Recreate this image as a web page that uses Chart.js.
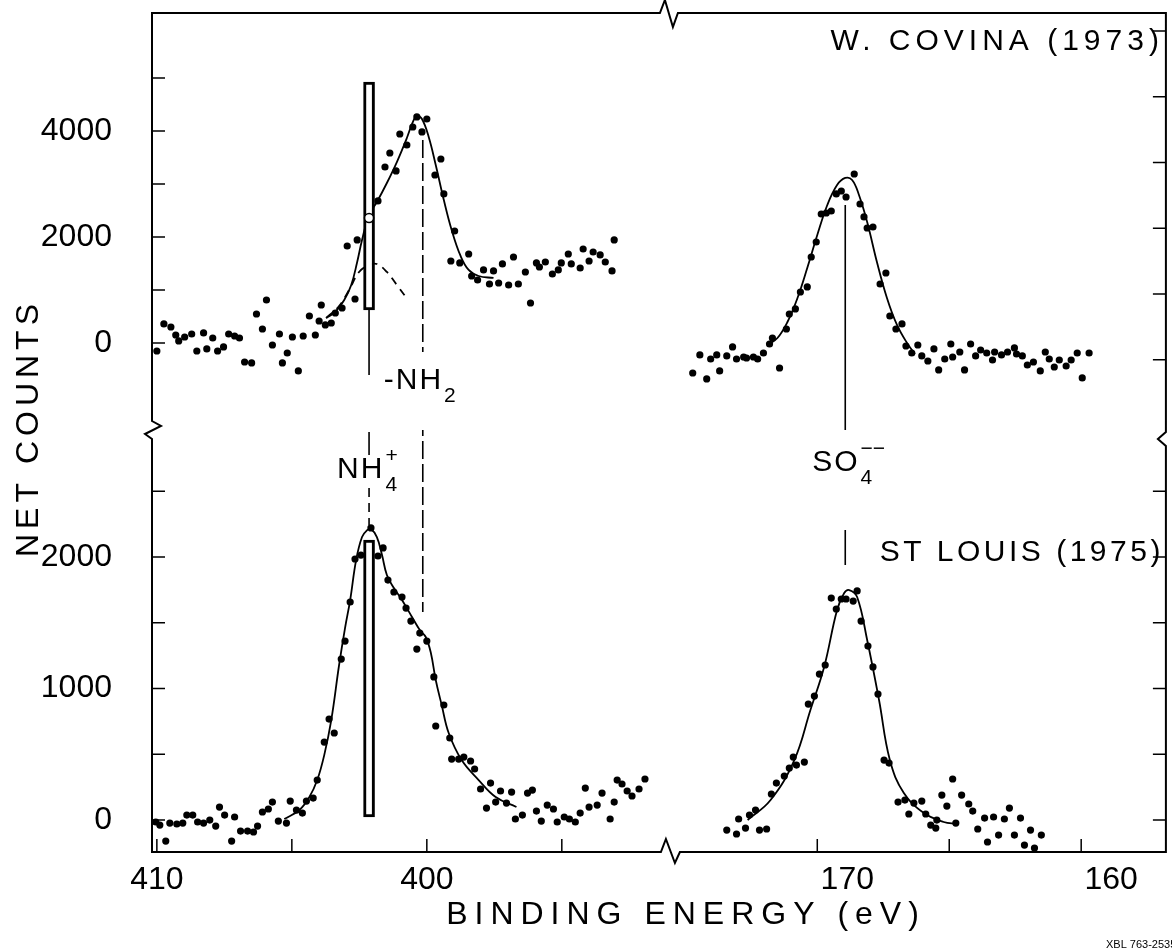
<!DOCTYPE html>
<html>
<head>
<meta charset="utf-8">
<script src="https://cdn.jsdelivr.net/npm/chart.js@4.4.0/dist/chart.umd.min.js"></script>
<style>
  html, body { margin: 0; padding: 0; background: #fff; }
</style>
</head>
<body>
<canvas id="xps" width="1172" height="951"></canvas>
<script>
// N 1s region (eV) and S 2p region (eV), net counts
const covinaN_eV = [410.00,409.74,409.48,409.30,409.19,408.97,408.71,408.52,408.27,408.15,407.93,407.75,407.53,407.34,407.12,406.94,406.75,406.49,406.31,406.09,405.94,405.72,405.46,405.35,405.17,404.98,404.76,404.58,404.35,404.13,403.99,403.91,403.76,403.54,403.39,403.14,402.95,402.66,402.58,401.81,401.55,401.37,401.14,401.00,400.74,400.52,400.37,400.18,400.00,399.70,399.48,399.37,399.11,398.97,398.78,398.45,398.34,398.12,397.90,397.68,397.53,397.34,397.20,396.97,396.79,396.61,396.35,396.16,395.94,395.83,395.61,395.35,395.13,395.02,394.76,394.65,394.32,394.21,393.99,393.84,393.58,393.39,393.14,393.06];
const covinaN_counts = [-151,359,302,151,38,113,170,-151,189,-113,94,-151,-75,170,132,94,-359,-377,547,264,811,-38,170,-377,-189,113,-528,132,509,151,415,717,340,377,566,660,1830,830,1944,2680,3321,3585,3246,3944,3736,4076,4265,3982,4227,3170,3472,2812,1547,2113,1510,1679,1264,1189,1378,1113,1359,1132,1491,1094,1623,1113,1340,755,1510,1434,1528,1302,1378,1510,1679,1491,1415,1774,1547,1717,1661,1528,1359,1944];
const covinaNFit_eV = [403.73,403.39,403.06,402.80,402.58,402.40,402.14,401.85,401.48,401.11,400.74,400.52,400.37,400.18,399.93,399.67,399.37,399.08,398.75,398.45,398.08,397.53];
const covinaNFit_counts = [472,585,811,1094,1528,1944,2415,2661,3019,3415,3868,4170,4283,4227,3887,3359,2698,2132,1642,1378,1264,1227];
const covinaNH4_eV = [403.73,403.25,402.88,402.51,402.14,401.85,401.48,401.11,400.78];
const covinaNH4_counts = [472,698,1000,1340,1472,1491,1340,1094,868];

const covinaS_eV = [174.72,174.45,174.19,174.04,173.81,173.70,173.43,173.21,173.06,172.79,172.68,172.42,172.26,172.04,171.81,171.70,171.43,171.17,171.06,170.83,170.64,170.38,170.23,170.04,169.85,169.66,169.47,169.28,169.09,168.91,168.60,168.38,168.23,168.11,167.89,167.62,167.40,167.25,167.02,166.79,166.64,166.42,166.19,166.04,165.81,165.58,165.40,165.17,164.94,164.87,164.60,164.42,164.19,164.00,163.81,163.58,163.36,163.28,163.02,162.79,162.53,162.45,162.23,162.04,161.81,161.55,161.36,161.21,161.02,160.83,160.57,160.38,160.15,159.96,159.70];
const covinaS_counts = [-566,-226,-679,-302,-226,-528,-245,-75,-302,-264,-283,-264,-302,-189,-19,94,-472,264,547,642,962,1057,1623,1906,2434,2453,2491,2812,2868,2755,3189,2623,2378,2170,2189,1113,1321,509,264,359,-57,-189,-38,-245,-340,-113,-509,-302,-19,-264,-170,-509,-19,-245,-132,-189,-321,-170,-226,-170,-94,-208,-245,-415,-359,-528,-170,-302,-453,-321,-434,-321,-189,-660,-189];
const covinaSFit_eV = [171.89,171.51,171.13,170.75,170.38,170.00,169.62,169.25,168.94,168.68,168.42,168.11,167.74,167.36,166.98,166.60,166.30];
const covinaSFit_counts = [-38,94,396,849,1415,2038,2604,2981,3114,3076,2793,2283,1528,849,340,0,-208];

const louisN_eV = [410.04,409.89,409.67,409.52,409.26,409.04,408.89,408.67,408.49,408.27,408.04,407.82,407.68,407.49,407.23,407.12,406.90,406.64,406.42,406.27,406.09,405.87,405.72,405.50,405.20,405.06,404.83,404.61,404.46,404.21,404.06,403.80,403.62,403.43,403.17,403.03,402.84,402.66,402.44,402.07,401.81,401.62,401.44,401.22,400.92,400.77,400.59,400.37,400.26,400.00,399.74,399.67,399.37,399.15,399.08,398.82,398.63,398.38,398.23,398.01,397.79,397.64,397.45,397.27,397.05,396.86,396.72,396.46,396.27,396.09,395.94,395.76,395.54,395.31,395.17,394.91,394.72,394.50,394.32,394.13,393.99,393.69,393.51,393.21,393.06,392.95,392.77,392.58,392.40,392.14,391.92];
const louisN_counts = [-15,-38,-160,-23,-30,-23,38,38,-15,-23,0,-46,99,38,-160,23,-84,-84,-91,-46,61,84,137,-8,-23,144,76,53,144,167,304,593,768,662,1224,1361,1658,1985,2015,2221,2008,2069,1825,1734,1696,1612,1513,1300,1422,1361,1088,715,875,624,464,464,479,449,388,236,91,281,137,221,129,213,8,38,205,228,68,-8,114,84,-15,23,8,-15,53,243,99,114,205,8,137,304,274,221,183,236,312];
const louisNFit_eV = [405.28,404.72,404.35,404.06,403.80,403.54,403.25,403.03,402.84,402.62,402.40,402.21,402.07,401.85,401.66,401.48,401.22,400.92,400.55,400.26,400.04,399.85,399.67,399.45,399.19,398.71,398.08,397.45,396.68];
const louisNFit_counts = [8,76,175,304,494,760,1179,1460,1673,1977,2152,2205,2213,2152,2015,1863,1764,1673,1544,1445,1392,1270,1065,875,662,456,304,175,99];

const louisS_eV = [173.43,173.06,172.98,172.72,172.57,172.34,172.19,171.92,171.74,171.55,171.25,171.06,170.91,170.79,170.49,170.34,170.11,169.92,169.70,169.47,169.28,169.09,168.91,168.64,168.49,168.34,168.08,167.89,167.70,167.47,167.28,166.94,166.68,166.53,166.34,166.04,165.89,165.70,165.51,165.47,165.28,165.09,164.87,164.75,164.53,164.26,164.11,163.92,163.66,163.55,163.32,163.13,162.91,162.72,162.53,162.30,162.15,161.92,161.77,161.51];
const louisS_counts = [-76,-106,8,-61,38,76,-76,-68,198,281,335,395,479,418,441,882,943,1110,1179,1688,1605,1681,1681,1665,1742,1513,1323,1164,958,456,433,137,152,46,129,144,46,-38,-61,0,190,106,312,-23,190,122,68,-68,15,-167,23,-114,8,91,-114,15,-190,-76,-213,-114];
const louisSFit_eV = [172.64,171.77,170.87,170.26,169.74,169.25,168.98,168.79,168.49,168.11,167.66,167.25,166.72,165.96,165.21,164.72];
const louisSFit_counts = [0,152,456,837,1164,1597,1726,1749,1696,1369,913,456,205,53,-15,-30];

// marker positions
const nh4_eV = 402.14;
const nh2_eV = 400.15;
const so4_eV = 168.94;
const covinaBar = [623, 4925];
const louisBar = [23, 2129];
const covinaRing = 2359;

// axes
const nTicks = [410, 405, 400, 395];
const nLabels = [410, 400];
const sTicks = [170, 165, 160];
const sLabels = [170, 160];
const topTicks = [0, 1000, 2000, 3000, 4000, 5000];
const topLabels = [0, 2000, 4000];
const botTicks = [0, 500, 1000, 1500, 2000, 2500];
const botLabels = [0, 1000, 2000];

const FONT = "'Liberation Sans', Arial, sans-serif";
Chart.defaults.font.family = FONT;
Chart.defaults.color = '#000';

function pts(xs, ys) {
  return xs.map((x, i) => ({x: x, y: ys[i]}));
}
function dots(xs, ys, xid, yid) {
  return { type: 'scatter', data: pts(xs, ys), xAxisID: xid, yAxisID: yid,
    pointRadius: 3.6, pointBackgroundColor: '#000', pointBorderWidth: 0, showLine: false };
}
function curve(xs, ys, xid, yid, dash) {
  return { type: 'scatter', data: pts(xs, ys), xAxisID: xid, yAxisID: yid,
    showLine: true, tension: 0.4, borderColor: '#000', borderWidth: 1.8,
    borderDash: dash || [], pointRadius: 0, fill: false };
}
function rule(x, y0, y1, xid, yid, dash) {
  let d = curve([x, x], [y0, y1], xid, yid, dash);
  d.tension = 0;
  d.borderWidth = 1.6;
  return d;
}
function bar(x, range, yid) {
  return { type: 'bar', data: [{x: x, y: range}], xAxisID: 'xL', yAxisID: yid,
    barThickness: 11, grouped: false, borderWidth: 3, borderColor: '#000',
    backgroundColor: '#fff', borderSkipped: false, order: -1 };
}
function tickSetter(vals) {
  return function (s) { s.ticks = vals.map(v => ({value: v})); };
}
// fixed axis box, no extra room for overhanging labels
function fixBox(w, h) {
  return function (s) {
    if (w) s.width = w;
    if (h) s.height = h;
    s.paddingTop = s.paddingBottom = s.paddingLeft = s.paddingRight = 0;
  };
}

const framePlugin = {
  id: 'frame',
  afterDraw(chart) {
    const {ctx, chartArea: a} = chart;
    const {xL, xR, yT, yB} = chart.scales;
    const bx = xL.right;
    const by = yT.bottom;
    ctx.save();
    ctx.strokeStyle = '#000';
    ctx.lineWidth = 2;
    ctx.lineJoin = 'miter';
    ctx.beginPath();
    ctx.moveTo(a.left, a.top);
    ctx.lineTo(bx - 8, a.top);
    ctx.lineTo(bx - 3, a.top - 13);
    ctx.lineTo(bx + 5, a.top + 14);
    ctx.lineTo(bx + 10, a.top);
    ctx.lineTo(a.right, a.top);
    ctx.lineTo(a.right, by + 2);
    ctx.lineTo(a.right - 8, by + 9);
    ctx.lineTo(a.right, by + 16);
    ctx.lineTo(a.right, a.bottom);
    ctx.lineTo(bx + 12, a.bottom);
    ctx.lineTo(bx + 7, a.bottom + 11);
    ctx.lineTo(bx - 2, a.bottom - 13);
    ctx.lineTo(bx - 7, a.bottom);
    ctx.lineTo(a.left, a.bottom);
    ctx.lineTo(a.left, by + 9);
    ctx.lineTo(a.left - 7, by + 4);
    ctx.lineTo(a.left + 9, by - 4);
    ctx.lineTo(a.left, by - 9);
    ctx.closePath();
    ctx.stroke();

    // inward tick marks
    const tl = 13;
    ctx.lineWidth = 1.5;
    ctx.beginPath();
    topTicks.forEach(v => { const y = yT.getPixelForValue(v); ctx.moveTo(a.left, y); ctx.lineTo(a.left + tl, y); });
    botTicks.forEach(v => { const y = yB.getPixelForValue(v); ctx.moveTo(a.left, y); ctx.lineTo(a.left + tl, y); });
    nTicks.forEach(v => { const x = xL.getPixelForValue(v); ctx.moveTo(x, a.bottom); ctx.lineTo(x, a.bottom - tl); });
    sTicks.forEach(v => { const x = xR.getPixelForValue(v); ctx.moveTo(x, a.bottom); ctx.lineTo(x, a.bottom - tl); });
    // right side keeps the lower panel's 500-count spacing all the way up
    const step = yB.getPixelForValue(0) - yB.getPixelForValue(500);
    for (let y = yB.getPixelForValue(0); y > a.top + 5; y -= step) {
      if (Math.abs(y - by) < 16) continue;
      ctx.moveTo(a.right, y);
      ctx.lineTo(a.right - tl, y);
    }
    ctx.stroke();

    // axis titles
    ctx.fillStyle = '#000';
    ctx.textBaseline = 'middle';
    ctx.textAlign = 'center';
    ctx.font = '32px ' + FONT;
    ctx.letterSpacing = '7px';
    ctx.fillText('BINDING ENERGY (eV)', 686, 915);
    ctx.save();
    ctx.translate(29, 428);
    ctx.rotate(-Math.PI / 2);
    ctx.letterSpacing = '5px';
    ctx.fillText('NET COUNTS', 0, 0);
    ctx.restore();

    // panel names
    ctx.textAlign = 'right';
    ctx.font = '30px ' + FONT;
    ctx.letterSpacing = '5px';
    ctx.fillText('W. COVINA (1973)', a.right - 2, 42);
    ctx.letterSpacing = '3.5px';
    ctx.fillText('ST LOUIS (1975)', a.right - 2, 553);

    // species labels
    function chem(x, y, base, sub, sup) {
      ctx.textAlign = 'left';
      ctx.font = '30px ' + FONT;
      ctx.letterSpacing = '2px';
      ctx.fillText(base, x, y);
      const w = ctx.measureText(base).width;
      ctx.font = '21px ' + FONT;
      ctx.letterSpacing = '0px';
      if (sub) ctx.fillText(sub, x + w + 1, y + 15);
      if (sup) ctx.fillText(sup, x + w + 1, y - 14);
    }
    const xNH4 = xL.getPixelForValue(nh4_eV);
    const xNH2 = xL.getPixelForValue(nh2_eV);
    const xSO4 = xR.getPixelForValue(so4_eV);
    chem(xNH4 - 32, 470, 'NH', '4', '+');
    chem(xNH2 - 39, 381, '-NH', '2', null);
    chem(xSO4 - 33, 463, 'SO', '4', '\u2212\u2212');

    ctx.textAlign = 'left';
    ctx.font = '11px ' + FONT;
    ctx.letterSpacing = '0px';
    ctx.fillText('XBL 763-2535', 1106, 945);
    ctx.restore();
  }
};

const ctx = document.getElementById('xps').getContext('2d');
const xpsChart = new Chart(ctx, {
  type: 'scatter',
  data: {
    datasets: [
      { type: 'scatter', data: [{x: nh4_eV, y: covinaRing}], xAxisID: 'xL', yAxisID: 'yT',
        pointRadius: 4.5, pointBackgroundColor: '#fff', pointBorderColor: '#000', pointBorderWidth: 1.6, order: -2 },
      bar(nh4_eV, covinaBar, 'yT'),
      bar(nh4_eV, louisBar, 'yB'),
      dots(covinaN_eV, covinaN_counts, 'xL', 'yT'),
      curve(covinaNFit_eV, covinaNFit_counts, 'xL', 'yT'),
      curve(covinaNH4_eV, covinaNH4_counts, 'xL', 'yT', [8, 6]),
      dots(covinaS_eV, covinaS_counts, 'xR', 'yT'),
      curve(covinaSFit_eV, covinaSFit_counts, 'xR', 'yT'),
      dots(louisN_eV, louisN_counts, 'xL', 'yB'),
      curve(louisNFit_eV, louisNFit_counts, 'xL', 'yB'),
      dots(louisS_eV, louisS_counts, 'xR', 'yB'),
      curve(louisSFit_eV, louisSFit_counts, 'xR', 'yB'),
      rule(nh4_eV, covinaBar[0], -604, 'xL', 'yT'),
      rule(nh4_eV, 2951, 2776, 'xL', 'yB'),
      rule(nh4_eV, 2525, 2243, 'xL', 'yB', [9, 6]),
      rule(nh2_eV, 3830, -170, 'xL', 'yT', [18, 5]),
      rule(nh2_eV, 3057, 1582, 'xL', 'yB', [18, 5]),
      rule(so4_eV, 2604, -1830, 'xR', 'yT'),
      rule(so4_eV, 2205, 1939, 'xR', 'yB')
    ]
  },
  options: {
    responsive: false,
    animation: false,
    layout: { padding: { left: 0, right: 2, top: 13, bottom: 0 } },
    plugins: { legend: { display: false }, tooltip: { enabled: false } },
    scales: {
      xL: {
        type: 'linear', position: 'bottom', stack: 'x', stackWeight: 518, weight: 0,
        reverse: true, min: 391.07, max: 410.18, offset: false,
        grid: { display: false, drawTicks: false }, border: { display: false },
        afterBuildTicks: tickSetter(nTicks),
        afterFit: fixBox(0, 99),
        ticks: { autoSkip: false, maxRotation: 0, padding: 9, font: { size: 32 },
          callback: v => nLabels.includes(v) ? String(v) : '' }
      },
      xR: {
        type: 'linear', position: 'bottom', stack: 'x', stackWeight: 500, weight: 1,
        reverse: true, min: 156.79, max: 175.66, offset: false,
        grid: { display: false, drawTicks: false }, border: { display: false },
        afterBuildTicks: tickSetter(sTicks),
        afterFit: fixBox(0, 99),
        ticks: { autoSkip: false, maxRotation: 0, padding: 9, labelOffset: 30, font: { size: 32 },
          callback: v => sLabels.includes(v) ? String(v) : '' }
      },
      yB: {
        type: 'linear', position: 'left', stack: 'y', stackWeight: 422, weight: 0,
        min: -243, max: 2966,
        grid: { display: false, drawTicks: false }, border: { display: false },
        afterBuildTicks: tickSetter(botTicks),
        afterFit: fixBox(152, 0),
        ticks: { autoSkip: false, padding: 40, font: { size: 32 },
          callback: v => botLabels.includes(v) ? String(v) : '' }
      },
      yT: {
        type: 'linear', position: 'left', stack: 'y', stackWeight: 417, weight: 1,
        min: -1642, max: 6227,
        grid: { display: false, drawTicks: false }, border: { display: false },
        afterBuildTicks: tickSetter(topTicks),
        afterFit: fixBox(152, 0),
        ticks: { autoSkip: false, padding: 40, font: { size: 32 },
          callback: v => topLabels.includes(v) ? String(v) : '' }
      }
    }
  },
  plugins: [framePlugin]
});
</script>
</body>
</html>
